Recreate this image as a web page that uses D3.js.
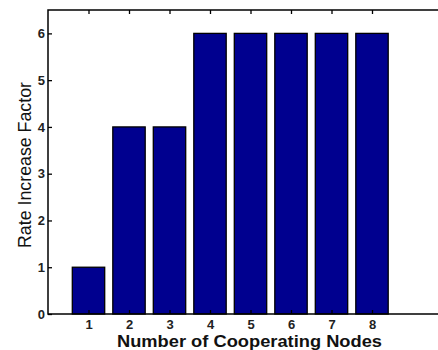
<!DOCTYPE html>
<html><head><meta charset="utf-8">
<script src="https://cdn.jsdelivr.net/npm/d3@7"></script>
<style>body{margin:0;background:#fff}svg{display:block}</style>
</head><body>
<script>
// Rate increase factor per number of cooperating nodes
const nodes = [1, 2, 3, 4, 5, 6, 7, 8];
const rateFactor = [1, 4, 4, 6, 6, 6, 6, 6];
const yTicks = [0, 1, 2, 3, 4, 5, 6];

const W = 438, H = 350;
const m = {left: 48, top: 10};
const x = d3.scaleLinear().domain([0, 10]).range([m.left, m.left + 405]);
const y = d3.scaleLinear().domain([0, 6.5]).range([314, 10]);

const svg = d3.select("body").append("svg").attr("width", W).attr("height", H)
  .style("font-family", "'Liberation Sans', Arial, sans-serif");

const barW = x(0.8) - x(0);
svg.append("g").selectAll("rect").data(nodes).join("rect")
  .attr("x", (d) => x(d) - barW / 2)
  .attr("y", (d, i) => y(rateFactor[i]))
  .attr("width", barW)
  .attr("height", (d, i) => y(0) - y(rateFactor[i]))
  .attr("fill", "#00008f")
  .attr("stroke", "#000")
  .attr("stroke-width", 1.3);

// Axes box (left, bottom, top)
const ax = svg.append("g").attr("stroke", "#000").attr("stroke-width", 1.5).attr("fill", "none");
ax.append("path").attr("d", `M${W},${y(6.5)}H${x(0)}V${y(0)}H${W}`);

// Left axis with inward ticks
const yAxis = d3.axisLeft(y).tickValues(yTicks).tickSize(-4).tickPadding(3).tickFormat(d3.format("d"));
const gy = svg.append("g").attr("transform", `translate(${x(0)},0)`).call(yAxis);
gy.select(".domain").remove();
gy.selectAll("line").attr("stroke-width", 1.3);
gy.selectAll("text").attr("font-size", 13).attr("font-weight", "bold").attr("fill", "#222");

// Bottom axis with inward ticks
const xAxis = d3.axisBottom(x).tickValues(nodes).tickSize(-4).tickPadding(6).tickFormat(d3.format("d"));
const gx = svg.append("g").attr("transform", `translate(0,${y(0)})`).call(xAxis);
gx.select(".domain").remove();
gx.selectAll("line").attr("stroke-width", 1.3);
gx.selectAll("text").attr("font-size", 13).attr("font-weight", "bold").attr("fill", "#222");

// Top axis ticks
const gt = svg.append("g").attr("transform", `translate(0,${y(6.5)})`)
  .call(d3.axisTop(x).tickValues(nodes).tickSize(-4).tickFormat(""));
gt.select(".domain").remove();
gt.selectAll("line").attr("stroke-width", 1.3);

svg.append("text").attr("x", 249.5).attr("y", 347).attr("text-anchor", "middle")
  .attr("font-size", 16.5).attr("font-weight", "bold").attr("fill", "#111")
  .attr("textLength", 265).attr("lengthAdjust", "spacingAndGlyphs")
  .text("Number of Cooperating Nodes");

svg.append("text").attr("transform", `translate(31,165) rotate(-90)`).attr("text-anchor", "middle")
  .attr("font-size", 17.5).attr("fill", "#111")
  .attr("textLength", 166).attr("lengthAdjust", "spacingAndGlyphs")
  .text("Rate Increase Factor");
</script>
</body></html>
